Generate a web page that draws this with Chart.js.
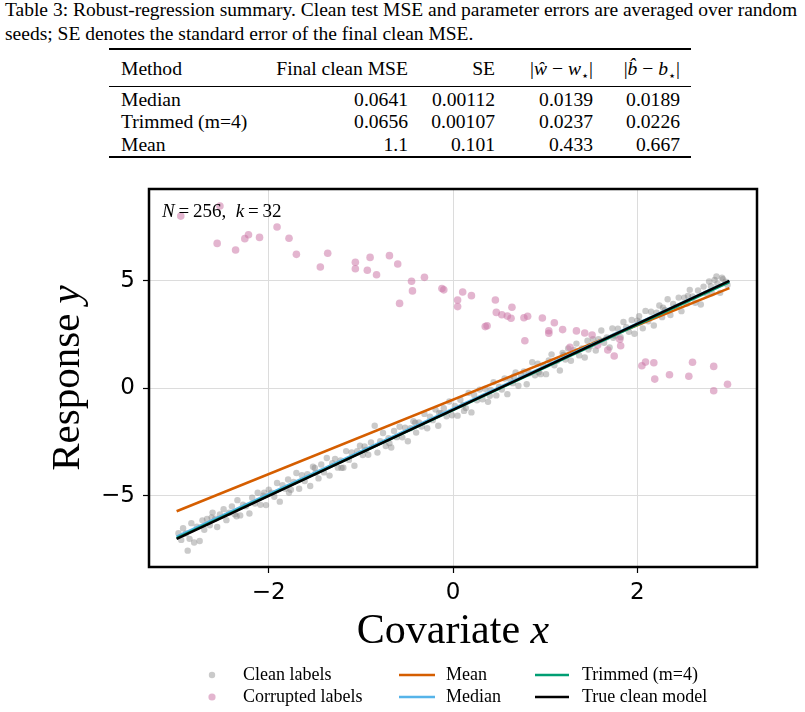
<!DOCTYPE html>
<html>
<head>
<meta charset="utf-8">
<script src="https://cdn.jsdelivr.net/npm/chart.js@4.4.1/dist/chart.umd.min.js"></script>
<style>
  body { margin: 0; background: #fff; width: 805px; height: 712px; overflow: hidden; position: relative; font-family: "Liberation Serif", serif; color: #000; }
  .cap { position: absolute; left: 5px; font-size: 19.5px; white-space: nowrap; }
  .rule { position: absolute; left: 109px; width: 582px; background: #000; }
  .cell { position: absolute; font-size: 19.6px; white-space: nowrap; }
  #wrap { position: absolute; left: 0; top: 165px; width: 805px; height: 547px; }
</style>
</head>
<body>
<div class="cap" style="top:-1px">Table 3: Robust-regression summary. Clean test MSE and parameter errors are averaged over random</div>
<div class="cap" style="top:23px">seeds; SE denotes the standard error of the final clean MSE.</div>
<div class="rule" style="top:48px;height:1.5px"></div>
<div class="rule" style="top:86px;height:1px"></div>
<div class="rule" style="top:156px;height:1.5px"></div>
<div id="table"></div>
<div id="wrap"><canvas id="chart" width="805" height="547"></canvas></div>
<script>
// table
const tableHeader = ['Method', 'Final clean MSE', 'SE', '|<i>ŵ</i> − <i>w</i><sub style="font-size:13px">⋆</sub>|', '|<i>b̂</i> − <i>b</i><sub style="font-size:13px">⋆</sub>|'];
const methods = ['Median', 'Trimmed (m=4)', 'Mean'];
const finalMSE = ['0.0641', '0.0656', '1.1'];
const seValues = ['0.00112', '0.00107', '0.101'];
const wErr = ['0.0139', '0.0237', '0.433'];
const bErr = ['0.0189', '0.0226', '0.667'];

// scatter points
const cleanX = [
  -2.98, -2.95, -2.93, -2.90, -2.86, -2.84, -2.81, -2.78, -2.75, -2.72,
  -2.70, -2.67, -2.64, -2.61, -2.58, -2.56, -2.53, -2.49, -2.46, -2.43,
  -2.40, -2.37, -2.34, -2.31, -2.28, -2.25, -2.21, -2.18, -2.15, -2.12,
  -2.09, -2.06, -2.03, -2.00, -1.97, -1.94, -1.91, -1.88, -1.85, -1.82,
  -1.79, -1.76, -1.73, -1.70, -1.67, -1.64, -1.61, -1.58, -1.55, -1.52,
  -1.49, -1.46, -1.43, -1.40, -1.37, -1.34, -1.31, -1.28, -1.25, -1.22,
  -1.19, -1.16, -1.13, -1.10, -1.07, -1.04, -1.01, -0.98, -0.95, -0.92,
  -0.89, -0.85, -0.82, -0.79, -0.76, -0.73, -0.70, -0.67, -0.64, -0.61,
  -0.58, -0.55, -0.52, -0.49, -0.46, -0.43, -0.40, -0.37, -0.34, -0.31,
  -0.28, -0.25, -0.22, -0.19, -0.16, -0.13, -0.10, -0.07, -0.04, -0.01,
  0.02, 0.05, 0.08, 0.11, 0.14, 0.17, 0.20, 0.23, 0.26, 0.29,
  0.32, 0.35, 0.38, 0.41, 0.44, 0.47, 0.50, 0.53, 0.56, 0.59,
  0.62, 0.65, 0.68, 0.71, 0.74, 0.77, 0.80, 0.83, 0.86, 0.89,
  0.92, 0.95, 0.98, 1.01, 1.04, 1.07, 1.10, 1.13, 1.16, 1.19,
  1.22, 1.25, 1.28, 1.31, 1.34, 1.37, 1.40, 1.43, 1.46, 1.49,
  1.52, 1.55, 1.58, 1.61, 1.64, 1.67, 1.70, 1.73, 1.76, 1.79,
  1.82, 1.85, 1.88, 1.91, 1.94, 1.97, 2.00, 2.03, 2.06, 2.09,
  2.12, 2.15, 2.18, 2.21, 2.24, 2.27, 2.30, 2.33, 2.36, 2.39,
  2.42, 2.45, 2.48, 2.51, 2.54, 2.57, 2.60, 2.63, 2.66, 2.69,
  2.72, 2.75, 2.78, 2.81, 2.84, 2.87, 2.90, 2.93, 2.96, 2.98,
  -2.88, -2.62, -2.35, -2.05, -1.78, -1.50, -1.21, -0.96, -0.69, -0.41,
  -0.15, 0.12, 0.40, 0.66, 0.93, 1.20, 1.47, 1.74, 2.02, 2.28,
  2.55, 2.80, 2.86, 2.92
];
const cleanY = [
  -6.74, -7.05, -6.51, -6.75, -7.00, -6.27, -7.17, -6.44, -7.10, -6.14,
  -6.58, -6.08, -6.37, -5.78, -6.06, -6.45, -5.87, -5.62, -6.13, -5.79,
  -5.49, -5.86, -5.20, -5.91, -5.41, -5.48, -5.82, -5.09, -5.36, -4.86,
  -5.42, -4.99, -5.43, -4.71, -4.86, -5.04, -4.40, -5.27, -4.50, -4.67,
  -4.24, -4.72, -4.35, -3.94, -4.67, -4.04, -4.31, -3.99, -4.54, -3.65,
  -3.93, -4.19, -3.54, -3.91, -3.24, -4.06, -3.48, -3.28, -3.69, -3.35,
  -3.69, -2.92, -3.33, -2.98, -3.60, -2.92, -2.67, -3.10, -2.87, -3.09,
  -2.52, -1.74, -2.99, -2.46, -2.08, -2.68, -2.32, -2.75, -1.98, -2.27,
  -1.79, -2.28, -1.83, -2.46, -1.86, -1.53, -2.06, -1.59, -1.78, -1.19,
  -1.86, -1.32, -1.48, -0.99, -1.74, -1.16, -0.93, -1.30, -0.61, -1.25,
  -0.82, -1.27, -0.53, -0.78, -0.92, -0.21, -1.12, -0.31, -0.56, -0.06,
  -0.51, -0.02, -0.63, -0.07, 0.29, -0.33, 0.07, -0.06, 0.46, -0.27,
  0.43, 0.24, 0.74, 0.12, 0.60, 0.79, 0.19, 0.70, 1.21, 0.61,
  1.15, 0.66, 1.05, 0.66, 1.30, 1.58, 1.07, 1.28, 0.83, 1.65,
  1.34, 1.85, 1.28, 1.78, 2.08, 1.53, 1.86, 1.43, 2.21, 1.96,
  2.28, 1.76, 2.29, 2.69, 2.12, 2.37, 1.90, 2.79, 2.45, 2.77,
  2.38, 3.09, 2.84, 2.63, 3.18, 2.54, 3.15, 3.07, 2.79, 3.60,
  3.12, 3.56, 2.92, 3.52, 3.85, 3.31, 3.65, 4.14, 3.41, 3.92,
  3.79, 4.22, 3.59, 4.22, 3.94, 4.58, 4.27, 3.98, 4.55, 3.90,
  4.73, 4.41, 4.97, 4.42, 5.04, 4.86, 4.44, 5.08, 4.96, 4.81,
  -7.55, -6.00, -5.95, -4.85, -4.85, -3.70, -3.70, -2.70, -2.55, -1.60,
  -1.15, -1.05, -0.35, 0.55, 0.75, 1.55, 1.80, 2.35, 3.35, 3.75,
  4.30, 4.75, 5.20, 5.15
];
const corruptX = [
  -2.955, -2.53, -2.56, -2.36, -2.26, -2.22, -2.10, -1.91, -1.78, -1.70,
  -1.44, -1.36, -1.06, -1.06, -0.90, -0.93, -0.83, -0.69, -0.60, -0.45,
  -0.44, -0.58, -0.31, -0.12, -0.10, 0.05, 0.05, 0.105, 0.20, 0.46,
  0.47, 0.53, 0.59, 0.63, 0.64, 0.35, 0.37, 0.78, 0.77, 0.81,
  0.97, 1.10, 1.04, 1.04, 1.19, 1.34, 1.43, 1.51, 1.27, 1.57,
  1.68, 1.81, 1.82, 1.75, 2.05, 2.09, 2.18, 2.19, 2.35, 2.56,
  2.60, 2.83, 2.98, 2.83
];
const corruptY = [
  8.01, 8.48, 6.74, 6.43, 6.96, 7.14, 7.02, 7.50, 6.98, 6.23,
  5.64, 6.28, 5.86, 5.56, 6.09, 5.49, 5.28, 6.17, 5.78, 4.98,
  4.53, 3.95, 5.16, 4.64, 4.58, 4.11, 3.80, 4.48, 4.31, 4.11,
  3.53, 3.42, 3.36, 3.26, 3.77, 2.87, 2.91, 2.21, 3.28, 3.35,
  3.27, 3.05, 2.68, 2.56, 2.73, 2.67, 2.57, 2.48, 1.91, 2.01,
  1.78, 2.28, 1.98, 1.50, 1.05, 1.22, 1.19, 0.43, 0.63, 0.56,
  1.21, 1.02, 0.19, -0.11
];

// fitted lines, endpoints at x = -3 and x = 3
const lineX = [-3, 3];
const meanY = [-5.72, 4.66];
const medianY = [-6.90, 5.00];
const trimmedY = [-6.97, 4.94];
const trueY = [-7.00, 5.00];

const xTicks = [-2, 0, 2];
const yTicks = [-5, 0, 5];

// build the table
const colRight = [null, 408, 495, 593, 680];
const rowTops = [58, 89, 111, 134];
const tbl = document.getElementById('table');
function cell(html, top, col) {
  const d = document.createElement('div');
  d.className = 'cell';
  d.innerHTML = html;
  d.style.top = top + 'px';
  if (col === 0) d.style.left = '121px';
  else d.style.right = (805 - colRight[col]) + 'px';
  tbl.appendChild(d);
}
tableHeader.forEach((h, c) => cell(h, rowTops[0], c));
methods.forEach((m, r) => {
  const t = rowTops[r + 1];
  cell(m, t, 0);
  cell(finalMSE[r], t, 1);
  cell(seValues[r], t, 2);
  cell(wErr[r], t, 3);
  cell(bErr[r], t, 4);
});

const pts = (xs, ys) => xs.map((x, i) => ({ x: x, y: ys[i] }));
const minus = v => (v < 0 ? '\u2212' + Math.abs(v) : String(v));

const COLORS = {
  mean: '#D55E00',
  median: '#56B4E9',
  trimmed: '#009E73',
  truth: '#000000',
  clean: 'rgba(128,128,128,0.42)',
  corrupt: 'rgba(204,121,167,0.55)'
};

function mixed(ctx, parts, x, y, align) {
  // parts: [[text, font], ...]
  let total = 0;
  parts.forEach(p => { ctx.font = p[1]; total += ctx.measureText(p[0]).width; });
  let cx = align === 'center' ? x - total / 2 : x;
  ctx.textAlign = 'left';
  parts.forEach(p => {
    ctx.font = p[1];
    ctx.fillText(p[0], cx, y);
    cx += ctx.measureText(p[0]).width;
  });
}

const overlay = {
  id: 'overlay',
  afterDraw(chart) {
    const ctx = chart.ctx;
    const a = chart.chartArea;
    ctx.save();
    // frame
    ctx.strokeStyle = '#000';
    ctx.lineWidth = 2.5;
    ctx.strokeRect(a.left, a.top, a.right - a.left, a.bottom - a.top);

    ctx.fillStyle = '#000';
    ctx.textBaseline = 'middle';
    // annotation
    const af = '19px "Liberation Serif"', ai = 'italic 19px "Liberation Serif"';
    mixed(ctx, [
      ['N', ai], ['\u2009=\u2009256,', af], ['\u2002', af],
      ['k', ai], ['\u2009=\u200932', af]
    ], a.left + 13, a.top + 23, 'left');

    // axis titles
    mixed(ctx, [
      ['Covariate ', '42px "Liberation Serif"'],
      ['x', 'italic 42px "Liberation Serif"']
    ], (a.left + a.right) / 2, 467, 'center');

    ctx.save();
    ctx.translate(68, (a.top + a.bottom) / 2);
    ctx.rotate(-Math.PI / 2);
    mixed(ctx, [
      ['Response ', '41px "Liberation Serif"'],
      ['y', 'italic 41px "Liberation Serif"']
    ], 0, 0, 'center');
    ctx.restore();

    // legend
    const r1 = 510, r2 = 532;
    const lf = '18px "Liberation Serif"';
    ctx.font = lf;
    ctx.fillStyle = COLORS.clean;
    ctx.beginPath(); ctx.arc(212, r1, 3.2, 0, Math.PI * 2); ctx.fill();
    ctx.fillStyle = COLORS.corrupt;
    ctx.beginPath(); ctx.arc(212, r2, 3.6, 0, Math.PI * 2); ctx.fill();
    const seg = (x0, x1, y, c) => {
      ctx.strokeStyle = c; ctx.lineWidth = 2.5;
      ctx.beginPath(); ctx.moveTo(x0, y); ctx.lineTo(x1, y); ctx.stroke();
    };
    seg(399, 435, r1, COLORS.mean);
    seg(399, 435, r2, COLORS.median);
    seg(535, 569, r1, COLORS.trimmed);
    seg(535, 569, r2, COLORS.truth);
    ctx.fillStyle = '#000';
    ctx.textAlign = 'left';
    ctx.fillText('Clean labels', 243, r1);
    ctx.fillText('Corrupted labels', 243, r2);
    ctx.fillText('Mean', 446, r1);
    ctx.fillText('Median', 446, r2);
    ctx.fillText('Trimmed (m=4)', 582, r1);
    ctx.fillText('True clean model', 582, r2);
    ctx.restore();
  }
};

const lineDs = (label, ys, color) => ({
  type: 'line', label: label, data: pts(lineX, ys),
  borderColor: color, borderWidth: 2.6, pointRadius: 0, fill: false, tension: 0
});

new Chart(document.getElementById('chart'), {
  type: 'scatter',
  data: {
    datasets: [
      lineDs('True clean model', trueY, COLORS.truth),
      lineDs('Trimmed (m=4)', trimmedY, COLORS.trimmed),
      lineDs('Median', medianY, COLORS.median),
      lineDs('Mean', meanY, COLORS.mean),
      {
        label: 'Corrupted labels', data: pts(corruptX, corruptY),
        backgroundColor: COLORS.corrupt, borderWidth: 0, pointRadius: 3.8
      },
      {
        label: 'Clean labels', data: pts(cleanX, cleanY),
        backgroundColor: COLORS.clean, borderWidth: 0, pointRadius: 3.2
      }
    ]
  },
  options: {
    responsive: false,
    animation: false,
    events: [],
    layout: { padding: { left: 89, right: 48, top: 24, bottom: 105 } },
    plugins: { legend: { display: false }, tooltip: { enabled: false } },
    scales: {
      x: {
        type: 'linear', min: -3.3, max: 3.3,
        afterBuildTicks: s => { s.ticks = xTicks.map(v => ({ value: v })); },
        afterFit: s => { s.height = 40; },
        grid: { color: '#dcdcdc', lineWidth: 1, tickColor: '#000', tickLength: 6, tickWidth: 1.2 },
        border: { display: false },
        ticks: { callback: minus, color: '#000', padding: 6, maxRotation: 0, font: { family: 'DejaVu Sans', size: 23 } }
      },
      y: {
        type: 'linear', min: -8.31, max: 9.27,
        afterBuildTicks: s => { s.ticks = yTicks.map(v => ({ value: v })); },
        afterFit: s => { s.width = 60; },
        grid: { color: '#dcdcdc', lineWidth: 1, tickColor: '#000', tickLength: 6, tickWidth: 1.2 },
        border: { display: false },
        ticks: { callback: minus, color: '#000', padding: 8, font: { family: 'DejaVu Sans', size: 23 } }
      }
    }
  },
  plugins: [overlay]
});
</script>
</body>
</html>
